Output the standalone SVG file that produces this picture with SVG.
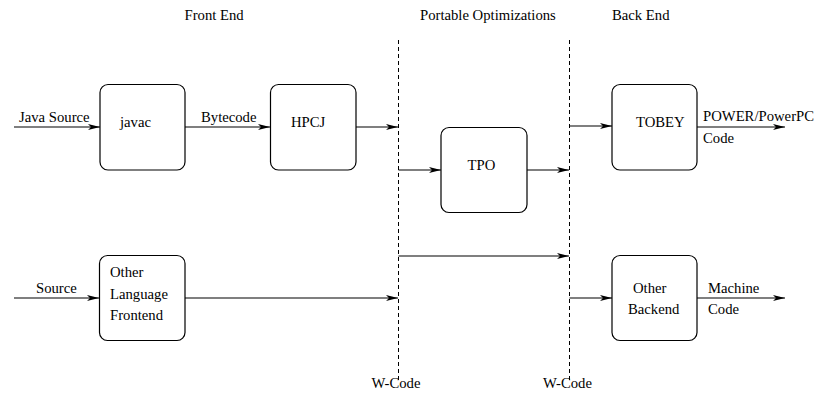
<svg xmlns="http://www.w3.org/2000/svg" width="819" height="398" viewBox="0 0 819 398">
<style>
text{font-family:'Liberation Serif','Times New Roman',Times,serif;font-size:14.7px;fill:#000}
.box{fill:#fff;stroke:#000;stroke-width:1.2}
.ln{fill:none;stroke:#000;stroke-width:1.2}
.dash{fill:none;stroke:#000;stroke-width:1;stroke-dasharray:4 3}
</style>
<defs>
<marker id="ah" viewBox="0 0 12 6" refX="12" refY="3" markerWidth="12" markerHeight="6" markerUnits="userSpaceOnUse" orient="auto">
<path d="M0,0 L12,3 L0,6 L3,3 Z" fill="#000"/>
</marker>
</defs>
<g id="headers">
<text x="184.5" y="19.5">Front End</text>
<text x="420" y="19.5">Portable Optimizations</text>
<text x="612" y="19.5">Back End</text>
</g>
<g id="wcode">
<line class="dash" x1="398.5" y1="40" x2="398.5" y2="380"/>
<line class="dash" x1="569.5" y1="40" x2="569.5" y2="380"/>
<text x="371.5" y="388">W-Code</text>
<text x="543" y="388">W-Code</text>
</g>
<g id="connectors">
<line class="ln" x1="14" y1="127" x2="100" y2="127" marker-end="url(#ah)"/>
<line class="ln" x1="185" y1="127" x2="270" y2="127" marker-end="url(#ah)"/>
<line class="ln" x1="356" y1="127" x2="398" y2="127" marker-end="url(#ah)"/>
<line class="ln" x1="398.5" y1="170" x2="441" y2="170" marker-end="url(#ah)"/>
<line class="ln" x1="527" y1="170" x2="569" y2="170" marker-end="url(#ah)"/>
<line class="ln" x1="569.5" y1="126" x2="612" y2="126" marker-end="url(#ah)"/>
<line class="ln" x1="697" y1="127" x2="785" y2="127" marker-end="url(#ah)"/>
<line class="ln" x1="398.5" y1="256" x2="569" y2="256" marker-end="url(#ah)"/>
<line class="ln" x1="14" y1="298" x2="99" y2="298" marker-end="url(#ah)"/>
<line class="ln" x1="185" y1="298" x2="398" y2="298" marker-end="url(#ah)"/>
<line class="ln" x1="569.5" y1="298" x2="612" y2="298" marker-end="url(#ah)"/>
<line class="ln" x1="697" y1="298" x2="785" y2="298" marker-end="url(#ah)"/>
<text x="19" y="122">Java Source</text>
<text x="201" y="122">Bytecode</text>
<text x="703" y="121">POWER/PowerPC</text>
<text x="703" y="143">Code</text>
<text x="36" y="293">Source</text>
<text x="708" y="293">Machine</text>
<text x="708" y="314">Code</text>
</g>
<g id="javac">
<rect class="box" x="100" y="84.5" width="85" height="85.5" rx="8"/>
<text x="120" y="126.5">javac</text>
</g>
<g id="hpcj">
<rect class="box" x="270.5" y="84.5" width="85.5" height="85.5" rx="8"/>
<text x="291" y="126.5">HPCJ</text>
</g>
<g id="tpo">
<rect class="box" x="441" y="127.5" width="86" height="85" rx="8"/>
<text x="467.5" y="170">TPO</text>
</g>
<g id="tobey">
<rect class="box" x="612" y="84.5" width="85" height="85.5" rx="8"/>
<text x="636" y="126.5">TOBEY</text>
</g>
<g id="other-frontend">
<rect class="box" x="99.5" y="255.5" width="85.5" height="85" rx="8"/>
<text x="110" y="277">Other</text>
<text x="110" y="299">Language</text>
<text x="110" y="320">Frontend</text>
</g>
<g id="other-backend">
<rect class="box" x="612" y="255.5" width="85" height="85" rx="8"/>
<text x="633" y="293">Other</text>
<text x="628" y="314">Backend</text>
</g>
</svg>
